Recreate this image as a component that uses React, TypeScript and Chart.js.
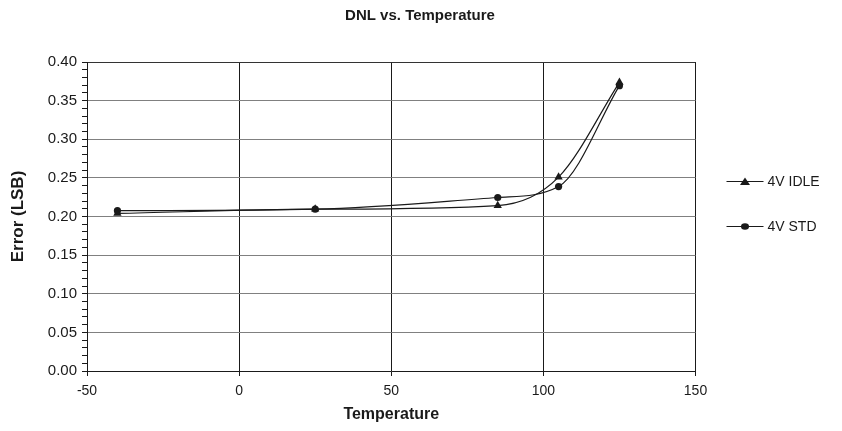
import React, { useEffect, useRef } from 'react';
import { Chart, registerables } from 'chart.js';

Chart.register(...registerables);

// ---- data ----
const chartTitle = 'DNL vs. Temperature';
const xAxisTitle = 'Temperature';
const yAxisTitle = 'Error (LSB)';
const temperatures = [-40, 25, 85, 105, 125];
const idleValues = [0.204, 0.2095, 0.2142, 0.251, 0.3737];
const stdValues = [0.2075, 0.2095, 0.2246, 0.2388, 0.3694];
const seriesNames = ['4V IDLE', '4V STD'];
const seriesMarkers = ['triangle', 'circle'];
const xMin = -50;
const xMax = 150;
const xStep = 50;
const yMin = 0;
const yMax = 0.4;
const yMajorStep = 0.05;
const yMinorStep = 0.01;

const FONT = '"Liberation Sans", Arial, Helvetica, sans-serif';
const INK = '#1a1a1a';

const isMajor = (v: number) => Math.abs(v / yMajorStep - Math.round(v / yMajorStep)) < 1e-6;

function drawMarker(ctx: CanvasRenderingContext2D, style: string, x: number, y: number) {
  ctx.beginPath();
  if (style === 'triangle') {
    ctx.moveTo(x, y - 4);
    ctx.lineTo(x + 5, y + 3.5);
    ctx.lineTo(x - 5, y + 3.5);
    ctx.closePath();
  } else {
    ctx.ellipse(x, y, 4, 3.2, 0, 0, Math.PI * 2);
  }
  ctx.fillStyle = INK;
  ctx.fill();
}

const titlePlugin = {
  id: 'customTitle',
  afterDraw(chart: any) {
    const ctx = chart.ctx as CanvasRenderingContext2D;
    ctx.save();
    ctx.font = `bold 15px ${FONT}`;
    ctx.fillStyle = INK;
    ctx.textAlign = 'center';
    ctx.textBaseline = 'middle';
    ctx.fillText(chartTitle, 420, 16);
    ctx.restore();
  },
};

const legendPlugin = {
  id: 'customLegend',
  afterDraw(chart: any) {
    const ctx = chart.ctx as CanvasRenderingContext2D;
    const area = chart.chartArea;
    ctx.save();
    chart.data.datasets.forEach((ds: any, i: number) => {
      const y = area.top + 119 + i * 45;
      const x0 = area.right + 31;
      const x1 = area.right + 68;
      ctx.strokeStyle = INK;
      ctx.lineWidth = 1;
      ctx.beginPath();
      ctx.moveTo(x0, y + 0.5);
      ctx.lineTo(x1, y + 0.5);
      ctx.stroke();
      drawMarker(ctx, seriesMarkers[i], (x0 + x1) / 2, y + 0.5);
      ctx.font = `14px ${FONT}`;
      ctx.fillStyle = INK;
      ctx.textAlign = 'left';
      ctx.textBaseline = 'middle';
      ctx.fillText(ds.label, x1 + 4, y + 1);
    });
    ctx.restore();
  },
};

export default function App() {
  const ref = useRef<HTMLCanvasElement | null>(null);

  useEffect(() => {
    if (!ref.current) return;
    const series = [idleValues, stdValues];
    const chart = new Chart(ref.current, {
      type: 'line',
      data: {
        datasets: series.map((vals, i) => ({
          label: seriesNames[i],
          data: temperatures.map((t, j) => ({ x: t, y: vals[j] })),
          borderColor: INK,
          backgroundColor: INK,
          borderWidth: 1.2,
          pointStyle: seriesMarkers[i] as any,
          pointRadius: seriesMarkers[i] === 'triangle' ? 4.8 : 3.6,
          pointBorderWidth: 0,
          cubicInterpolationMode: 'monotone',
          fill: false,
        })),
      },
      options: {
        responsive: false,
        animation: false,
        devicePixelRatio: 1,
        layout: { padding: { left: 0, top: 62, right: 146.5, bottom: 0 } },
        plugins: {
          legend: { display: false },
          title: { display: false },
          tooltip: { enabled: false },
        },
        scales: {
          x: {
            type: 'linear',
            min: xMin,
            max: xMax,
            afterFit: (scale: any) => { scale.height = 60; },
            ticks: {
              stepSize: xStep,
              color: INK,
              font: { family: FONT, size: 14 },
              padding: 7,
              maxRotation: 0,
            },
            grid: { color: INK, tickColor: INK, tickLength: 5, lineWidth: 1 },
            border: { color: INK, width: 1 },
            title: {
              display: true,
              text: xAxisTitle,
              color: INK,
              font: { family: FONT, size: 16, weight: 'bold' },
              padding: { top: 0, bottom: 7 },
            },
          },
          y: {
            type: 'linear',
            min: yMin,
            max: yMax,
            afterFit: (scale: any) => { scale.width = 87; },
            ticks: {
              stepSize: yMinorStep,
              autoSkip: false,
              maxTicksLimit: 1000,
              color: INK,
              font: { family: FONT, size: 15 },
              padding: 5,
              callback: (v: any) => (isMajor(Number(v)) ? Number(v).toFixed(2) : ''),
            },
            grid: {
              color: (c: any) => {
                const v = c.tick ? c.tick.value : 0;
                if (!isMajor(v)) return 'rgba(0,0,0,0)';
                if (Math.abs(v - yMax) < 1e-6) return '#333';
                return '#808080';
              },
              tickColor: INK,
              tickLength: 5,
              lineWidth: 1,
            },
            border: { color: INK, width: 1 },
            title: {
              display: true,
              text: yAxisTitle,
              color: INK,
              font: { family: FONT, size: 17, weight: 'bold' },
              padding: { top: 8, bottom: 0 },
            },
          },
        },
      },
      plugins: [titlePlugin, legendPlugin],
    });
    return () => chart.destroy();
  }, []);

  return (
    <div style={{ position: 'absolute', left: 0, top: 0, width: 842, height: 431, background: '#fff' }}>
      <canvas ref={ref} width={842} height={431} style={{ width: 842, height: 431, display: 'block' }} />
    </div>
  );
}
